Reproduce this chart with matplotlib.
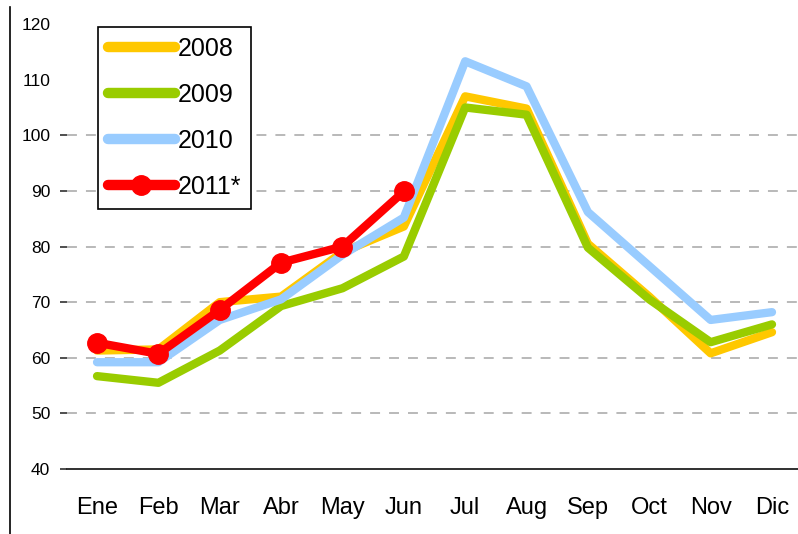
import matplotlib
matplotlib.use("Agg")
import matplotlib.pyplot as plt
from matplotlib.lines import Line2D

plt.rcParams["font.family"] = ["Liberation Sans Narrow", "Liberation Sans", "DejaVu Sans"]

# datos
meses = ["Ene", "Feb", "Mar", "Abr", "May", "Jun", "Jul", "Aug", "Sep", "Oct", "Nov", "Dic"]
v2008 = [61.3, 61.5, 70.0, 71.0, 79.0, 83.6, 107.0, 104.8, 80.5, 71.0, 60.8, 64.6]
v2009 = [56.7, 55.5, 61.3, 69.3, 72.5, 78.2, 105.0, 103.7, 79.8, 70.5, 62.8, 66.0]
v2010 = [59.2, 59.2, 66.8, 70.5, 78.5, 85.2, 113.3, 108.8, 86.2, 76.5, 66.8, 68.2]
v2011 = [62.7, 60.7, 68.6, 77.1, 80.0, 89.9]
yticks = [40, 50, 60, 70, 80, 90, 100, 110, 120]
grid_y = [50, 60, 70, 80, 90, 100]

fig = plt.figure(figsize=(7.98, 5.34), dpi=100)
ax = fig.add_axes([0.084, 0.1217, 0.916, 0.8333])

# líneas de guía discontinuas (solo hasta 100)
for g in grid_y:
    ax.axhline(g, color="#a6a6a6", lw=1.1, dashes=(6.5, 5.9), zorder=0)

x = list(range(len(meses)))
ax.plot(x, v2008, color="#FFC800", lw=6, solid_capstyle="round", solid_joinstyle="round", label="2008")
ax.plot(x, v2009, color="#99CC00", lw=6, solid_capstyle="round", solid_joinstyle="round", label="2009")
ax.plot(x, v2010, color="#99CCFF", lw=6, solid_capstyle="round", solid_joinstyle="round", label="2010")
ax.plot(x[:len(v2011)], v2011, color="#FF0000", lw=6, marker="o", ms=14,
        solid_capstyle="round", solid_joinstyle="round", label="2011*")

ax.set_xlim(-0.489, 11.424)
ax.set_ylim(40, 120)
ax.set_xticks(x)
ax.set_xticklabels(meses, fontsize=17)
ax.set_yticks(yticks)
ax.set_yticklabels([str(t) for t in yticks], fontsize=12.5)
ax.tick_params(axis="x", length=0, pad=20)
ax.tick_params(axis="y", length=5, width=1.3, color="#404040", pad=7)
for t in ax.yaxis.get_major_ticks()[-2:]:
    t.tick1line.set_visible(False)

for s in ["top", "right", "left"]:
    ax.spines[s].set_visible(False)
ax.spines["bottom"].set_color("#202020")
ax.spines["bottom"].set_linewidth(1.3)

leg = ax.legend(loc="upper left", bbox_to_anchor=(0.042, 0.993), borderaxespad=0,
                fontsize=18, handlelength=2.7, handletextpad=0.1, labelspacing=0.88,
                borderpad=0.4, fancybox=False, framealpha=1, edgecolor="black")
leg.get_frame().set_linewidth(1.2)
for ln in leg.get_lines():
    ln.set_linewidth(7.5)

# línea vertical a la izquierda del gráfico
fig.add_artist(Line2D([0.012, 0.012], [0.0, 0.987], color="black", lw=1.2, transform=fig.transFigure))

fig.savefig("out.png", dpi=100)
